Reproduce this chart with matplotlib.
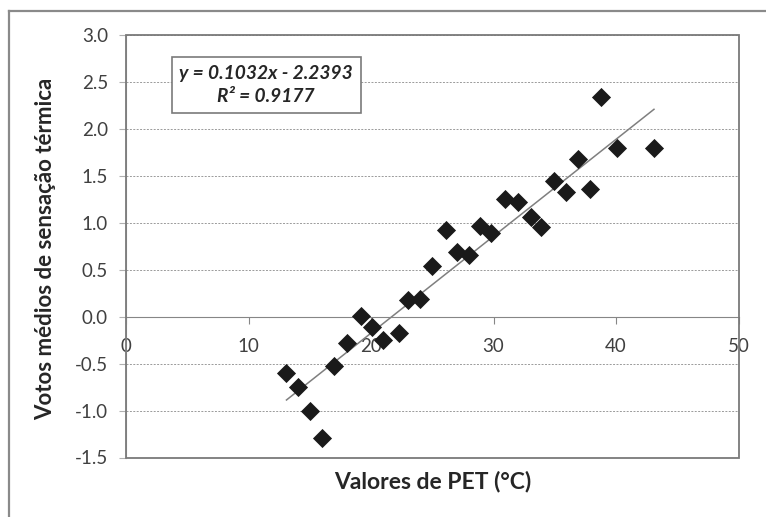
import numpy as np
from matplotlib import pyplot as plt
from matplotlib.lines import Line2D
from matplotlib.patches import Rectangle

# PET values (°C) and mean thermal sensation votes
pet_values = [13.1, 14.0, 15.0, 16.0, 17.0, 18.0, 19.2, 20.1, 21.0, 22.3,
              23.0, 24.0, 25.0, 26.1, 27.0, 28.0, 28.9, 29.8, 30.9, 32.0,
              33.1, 33.9, 34.9, 35.9, 36.9, 37.9, 38.8, 40.1, 43.1]
mean_votes = [-0.60, -0.75, -1.00, -1.29, -0.53, -0.28, 0.01, -0.11, -0.25, -0.17,
              0.18, 0.19, 0.54, 0.92, 0.69, 0.66, 0.97, 0.89, 1.25, 1.22,
              1.06, 0.96, 1.44, 1.33, 1.68, 1.36, 2.34, 1.80, 1.80]

slope = 0.1032
intercept = -2.2393
r_squared = 0.9177

x_ticks = [0, 10, 20, 30, 40, 50]
y_ticks = [-1.5, -1.0, -0.5, 0.0, 0.5, 1.0, 1.5, 2.0, 2.5, 3.0]

plt.rcParams["font.family"] = ["Lato", "DejaVu Sans"]

fig = plt.figure(figsize=(7.66, 5.17), dpi=100)
ax = fig.add_axes([126 / 766, 1 - 457.5 / 517, 612.5 / 766, 422.5 / 517])

ax.scatter(pet_values, mean_votes, marker="D", s=95, color="#1a1a1a", zorder=3,
           linewidths=0)

fit_x = np.array([min(pet_values), max(pet_values)])
ax.plot(fit_x, slope * fit_x + intercept, color="#7f7f7f", lw=1.1, zorder=2)

ax.set_xlim(0, 50)
ax.set_ylim(-1.5, 3.0)
ax.set_xticks(x_ticks)
ax.set_yticks(y_ticks)
ax.set_yticklabels([f"{v:.1f}" for v in y_ticks])

# x axis crosses at y = 0, frame drawn separately
ax.spines["bottom"].set_position(("data", 0))
ax.spines["bottom"].set_color("#868686")
ax.spines["left"].set_color("#b0b0b0")
for side in ["top", "right"]:
    ax.spines[side].set_visible(False)
ax.add_patch(Rectangle((0, 0), 1, 1, transform=ax.transAxes, fill=False,
                       edgecolor="#7a7a7a", lw=1.3, zorder=4, clip_on=False))

ax.tick_params(axis="x", direction="out", length=5, color="#868686", pad=10,
               labelsize=13.5, labelcolor="#404040")
ax.tick_params(axis="y", direction="out", length=5, color="#b0b0b0", pad=8,
               labelsize=13.5, labelcolor="#404040")

ax.grid(axis="y", color="#9a9a9a", linestyle=(0, (2, 1.5)), lw=0.7)
ax.set_axisbelow(True)

fig.text(433 / 766, 1 - 482 / 517, "Valores de PET (°C)", fontsize=16.5,
         fontweight="bold", color="#262626", ha="center", va="center")
fig.text(46 / 766, 1 - 249 / 517, "Votos médios de sensação térmica",
         fontsize=16, fontweight="bold", color="#262626", rotation=90,
         ha="center", va="center")

ax.text(0.229, 0.882, f"y = {slope}x - {abs(intercept)}\nR² = {r_squared}",
        transform=ax.transAxes, ha="center", va="center", fontsize=13.8,
        fontweight="bold", fontstyle="italic", color="#262626",
        linespacing=1.45,
        bbox=dict(boxstyle="square,pad=0.4", facecolor="white",
                  edgecolor="#7a7a7a", lw=1.2), zorder=5)

# outer chart border (only top and left are visible in the crop)
fig.add_artist(Line2D([9 / 766, 9 / 766], [0, 1 - 11 / 517], color="#8a8a8a",
                      lw=1.6, transform=fig.transFigure))
fig.add_artist(Line2D([9 / 766, 1], [1 - 11 / 517, 1 - 11 / 517], color="#8a8a8a",
                      lw=1.6, transform=fig.transFigure))

fig.savefig("out.png", dpi=100)
